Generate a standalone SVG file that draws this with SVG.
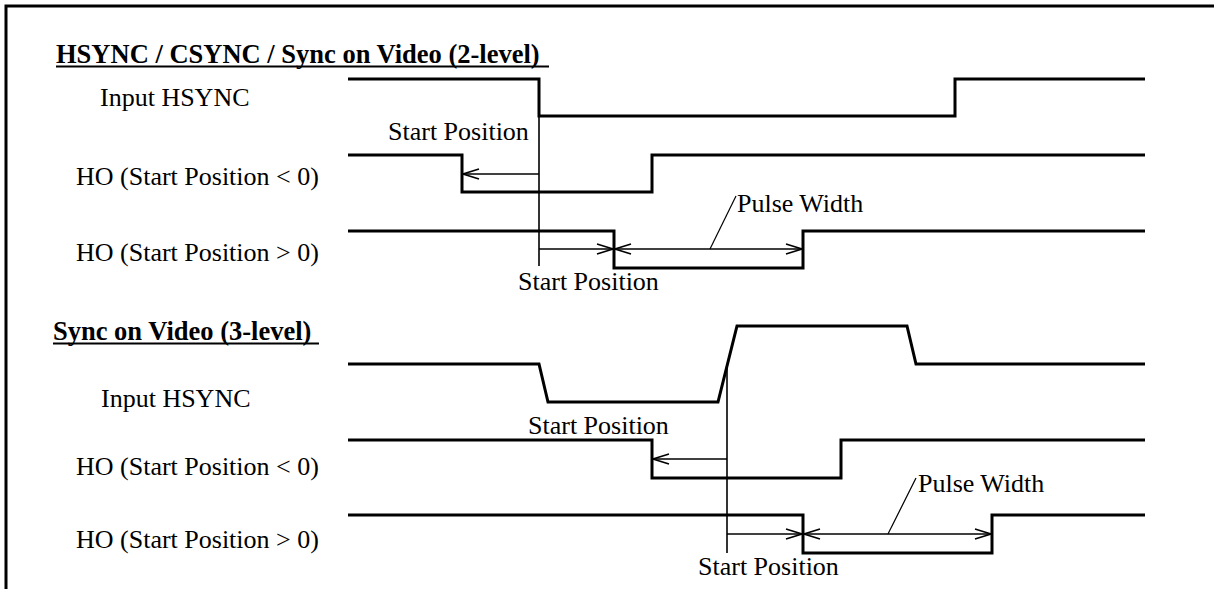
<svg xmlns="http://www.w3.org/2000/svg" width="1214" height="589" viewBox="0 0 1214 589">
<defs>
<style>
text{font-family:"Liberation Serif","Times New Roman",serif;font-size:26px;fill:#000}
.title{font-weight:bold;font-size:26.5px}
.sig{fill:none;stroke:#000;stroke-width:3;stroke-linejoin:miter}
.thin{fill:none;stroke:#000;stroke-width:1.6}
.lead{fill:none;stroke:#000;stroke-width:1.2}
.ul{stroke:#000;stroke-width:2}
</style>
<marker id="arr" markerUnits="userSpaceOnUse" viewBox="-18 -7 20 14" refX="0" refY="0" markerWidth="20" markerHeight="14" orient="auto-start-reverse">
<path d="M-16,-5 L0,0 L-16,5" fill="none" stroke="#000" stroke-width="1.6"/>
</marker>
</defs>
<rect width="1214" height="589" fill="#fff"/>
<g id="frame">
<path d="M6,589 V6 H1214" fill="none" stroke="#000" stroke-width="3"/>
</g>
<g id="section1">
<g id="title1"><text class="title" x="56" y="63">HSYNC / CSYNC / Sync on Video (2-level)</text><line class="ul" x1="56" y1="66.5" x2="549" y2="66.5"/></g>
<g id="s1-input"><text x="100" y="106">Input HSYNC</text><polyline class="sig" points="348,79 539,79 539,116 955,116 955,79 1145,79"/></g>
<g id="s1-ho-neg"><text x="76" y="185">HO (Start Position &lt; 0)</text><polyline class="sig" points="348,155 462,155 462,192 652,192 652,155 1145,155"/></g>
<g id="s1-ho-pos"><text x="76" y="261">HO (Start Position &gt; 0)</text><polyline class="sig" points="348,231 614,231 614,268 803,268 803,231 1145,231"/></g>
<g id="s1-labels">
<text x="388" y="140">Start Position</text>
<text x="737" y="212">Pulse Width</text>
<text x="518" y="290">Start Position</text>
</g>
</g>
<g id="section2">
<g id="title2"><text class="title" x="53" y="340">Sync on Video (3-level)</text><line class="ul" x1="53" y1="343.5" x2="319" y2="343.5"/></g>
<g id="s2-input"><text x="101" y="407">Input HSYNC</text><polyline class="sig" points="348,364 539,364 548,402 718,402 737,326 907,326 916,364 1145,364"/></g>
<g id="s2-ho-neg"><text x="76" y="475">HO (Start Position &lt; 0)</text><polyline class="sig" points="348,440 652,440 652,478 841,478 841,440 1145,440"/></g>
<g id="s2-ho-pos"><text x="76" y="548">HO (Start Position &gt; 0)</text><polyline class="sig" points="348,515 803,515 803,553 992,553 992,515 1145,515"/></g>
<g id="s2-labels">
<text x="528" y="434">Start Position</text>
<text x="918" y="492">Pulse Width</text>
<text x="698" y="575">Start Position</text>
</g>
</g>
<g id="connectors">
<line class="thin" x1="539" y1="116" x2="539" y2="266"/>
<line class="thin" x1="539" y1="174" x2="463" y2="174" marker-end="url(#arr)"/>
<line class="thin" x1="539" y1="249" x2="613" y2="249" marker-end="url(#arr)"/>
<line class="thin" x1="615" y1="249" x2="802" y2="249" marker-start="url(#arr)" marker-end="url(#arr)"/>
<line class="lead" x1="710" y1="249" x2="736" y2="196"/>
<line class="thin" x1="727" y1="366" x2="727" y2="553"/>
<line class="thin" x1="727" y1="459" x2="653" y2="459" marker-end="url(#arr)"/>
<line class="thin" x1="727" y1="534" x2="802" y2="534" marker-end="url(#arr)"/>
<line class="thin" x1="804" y1="534" x2="991" y2="534" marker-start="url(#arr)" marker-end="url(#arr)"/>
<line class="lead" x1="888" y1="534" x2="916" y2="478"/>
</g>
</svg>
